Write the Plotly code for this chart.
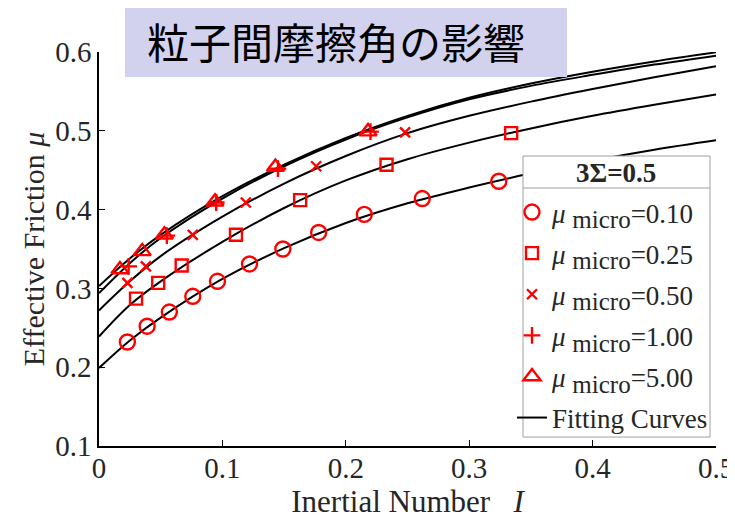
import plotly.graph_objects as go

# ---- data ----
I_c1 = [0.023, 0.039, 0.057, 0.076, 0.096, 0.122, 0.149, 0.178, 0.215, 0.262, 0.324]
mu_c1 = [0.232, 0.252, 0.270, 0.290, 0.309, 0.331, 0.350, 0.371, 0.394, 0.414, 0.436]

I_c2 = [0.030, 0.048, 0.067, 0.111, 0.163, 0.233, 0.334]
mu_c2 = [0.287, 0.307, 0.329, 0.368, 0.412, 0.457, 0.497]

I_c3 = [0.023, 0.038, 0.076, 0.119, 0.176, 0.248]
mu_c3 = [0.307, 0.328, 0.368, 0.409, 0.455, 0.498]

I_c4 = [0.024, 0.055, 0.095, 0.145, 0.220]
mu_c4 = [0.328, 0.367, 0.409, 0.452, 0.499]

I_c5 = [0.017, 0.035, 0.053, 0.094, 0.143, 0.218]
mu_c5 = [0.324, 0.347, 0.368, 0.410, 0.454, 0.499]

I_fit = [0.0, 0.025, 0.05, 0.1, 0.15, 0.2, 0.25, 0.3, 0.35, 0.4, 0.45, 0.5]
fit_c1 = [0.199, 0.234, 0.263, 0.312, 0.351, 0.383, 0.408, 0.428, 0.446, 0.462, 0.476, 0.488]
fit_c2 = [0.239, 0.279, 0.309, 0.359, 0.402, 0.437, 0.464, 0.485, 0.503, 0.519, 0.533, 0.546]
fit_c3 = [0.272, 0.309, 0.341, 0.391, 0.433, 0.468, 0.497, 0.519, 0.537, 0.553, 0.568, 0.582]
fit_c4 = [0.294, 0.332, 0.364, 0.414, 0.455, 0.489, 0.517, 0.540, 0.557, 0.571, 0.584, 0.5954]
fit_c5 = [0.303, 0.338, 0.368, 0.417, 0.457, 0.491, 0.519, 0.542, 0.560, 0.575, 0.588, 0.5996]

labels = ["0.10", "0.25", "0.50", "1.00", "5.00"]
x_ticks = [0, 0.1, 0.2, 0.3, 0.4, 0.5]
x_ticktext = ["0", "0.1", "0.2", "0.3", "0.4", "0.5"]
y_ticks = [0.1, 0.2, 0.3, 0.4, 0.5, 0.6]
y_ticktext = ["0.1", "0.2", "0.3", "0.4", "0.5", "0.6"]

RED = "#ff0000"
SERIF = "Liberation Serif"
TXT = "#262626"

fig = go.Figure()

fits = [fit_c1, fit_c2, fit_c3, fit_c4, fit_c5]
for k, f in enumerate(fits):
    fig.add_trace(go.Scatter(
        x=I_fit, y=f, mode="lines", line=dict(color="black", width=2, shape="spline"),
        name="Fitting Curves", showlegend=(k == 0), legendgroup="g6", legendrank=6,
        hoverinfo="skip"))

series = [
    (I_c1, mu_c1, "circle-open", 15),
    (I_c2, mu_c2, "square-open", 12),
    (I_c3, mu_c3, "x-thin-open", 10),
    (I_c4, mu_c4, "cross-thin-open", 12),
    (I_c5, mu_c5, "triangle-up-open", 15),
]
for k, (xs, ys, sym, sz) in enumerate(series):
    fig.add_trace(go.Scatter(
        x=xs, y=ys, mode="markers",
        marker=dict(symbol=sym, size=sz, color=RED, line=dict(color=RED, width=2.4)),
        name="<i>μ</i> <sub><span style='font-size:25px'>micro</span></sub>=" + labels[k],
        legendgroup="g%d" % (k + 1), legendrank=k + 1))

# paper coords helpers (reference plot area px: l=99, r=716, t=52, b=446)
def px(xp):
    return (xp - 99) / 617.0

def py(yp):
    return (446 - yp) / 394.0

shapes = [
    # legend box
    dict(type="rect", xref="paper", yref="paper", x0=px(523), x1=px(710), y0=py(437), y1=py(156),
         fillcolor="white", line=dict(color="#a0a0a0", width=1), layer="above"),
    dict(type="line", xref="paper", yref="paper", x0=px(523), x1=px(710), y0=py(188), y1=py(188),
         line=dict(color="#a0a0a0", width=1), layer="above"),
    # title box
    dict(type="rect", xref="paper", yref="paper", x0=px(125), x1=px(567), y0=py(77), y1=py(4),
         fillcolor="#d2d2ee", line=dict(width=0), layer="above"),
]

# the page body adds an 8px offset, so margins are reduced by 8 on left/top
fig.update_layout(
    width=735, height=523,
    margin=dict(l=91, r=27, t=44, b=85, autoexpand=False),
    paper_bgcolor="white", plot_bgcolor="white",
    shapes=shapes,
    annotations=[
        dict(text="粒子間摩擦角の影響", xref="paper", yref="paper", x=px(336), y=py(9),
             showarrow=False, font=dict(family="Noto Sans CJK JP", size=42, color="black"),
             xanchor="center", yanchor="top", borderpad=0),
        dict(text="<b>3Σ=0.5</b>", xref="paper", yref="paper", x=px(616), y=py(173),
             showarrow=False, font=dict(family=SERIF, size=27, color=TXT),
             xanchor="center", yanchor="middle"),
    ],
    legend=dict(
        x=px(512), y=py(188), xanchor="left", yanchor="top",
        bgcolor="rgba(0,0,0,0)", borderwidth=0,
        font=dict(family=SERIF, size=27, color=TXT),
        traceorder="grouped", tracegroupgap=3, itemwidth=30,
    ),
    xaxis=dict(
        range=[0, 0.5], tickvals=x_ticks, ticktext=x_ticktext, automargin=False,
        showline=True, linecolor="black", linewidth=1.5, mirror=False,
        ticks="inside", ticklen=6, tickcolor="black", showgrid=False, zeroline=False,
        tickfont=dict(family=SERIF, size=29, color=TXT), ticklabelstandoff=-5,
        title=dict(text="Inertial Number   <i>I</i>", font=dict(family=SERIF, size=31, color=TXT), standoff=4),
    ),
    yaxis=dict(
        range=[0.1, 0.6], tickvals=y_ticks, ticktext=y_ticktext, automargin=False,
        showline=True, linecolor="black", linewidth=1.5, mirror=False,
        ticks="inside", ticklen=6, tickcolor="black", showgrid=False, zeroline=False,
        tickfont=dict(family=SERIF, size=29, color=TXT), ticklabelstandoff=0,
        title=dict(text="Effective Friction <i>μ</i>", font=dict(family=SERIF, size=30, color=TXT), standoff=2),
    ),
)

fig.write_html("out.html")
